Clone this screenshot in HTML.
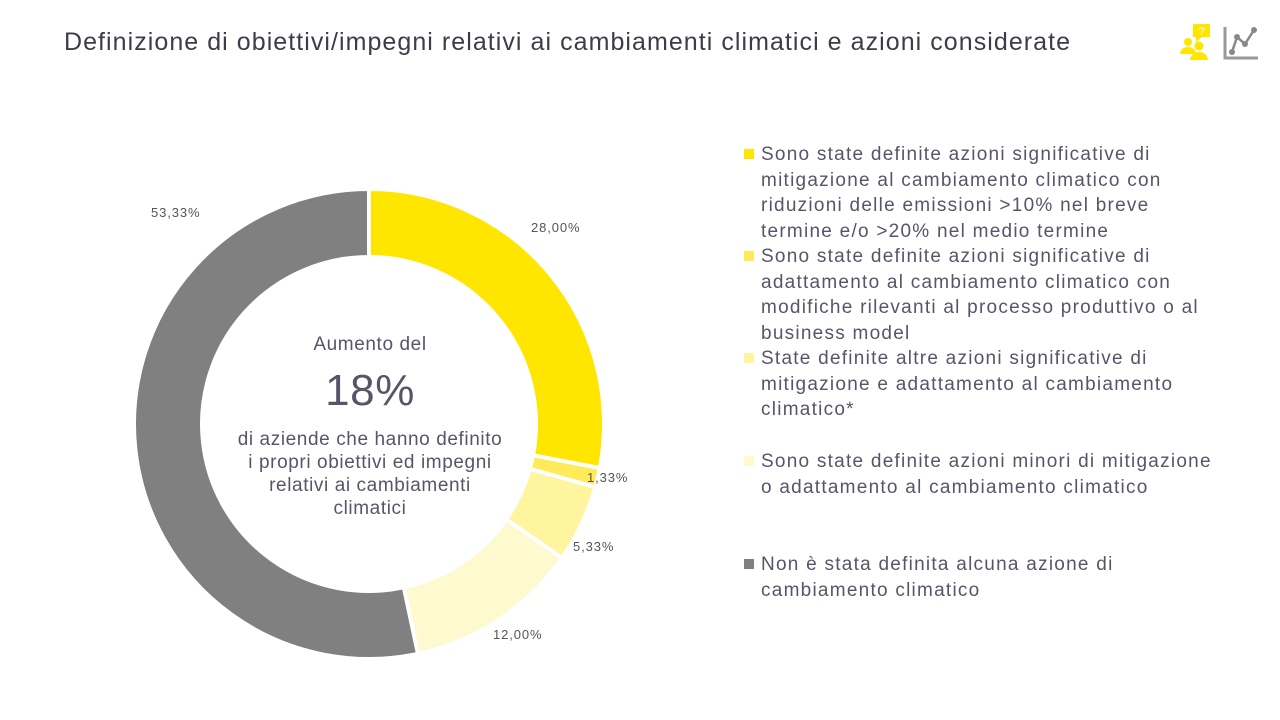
<!DOCTYPE html>
<html><head><meta charset="utf-8"><style>
body{margin:0;width:1280px;height:720px;background:#fff;font-family:"Liberation Sans",sans-serif;overflow:hidden;position:relative}
.t{position:absolute;left:64px;top:28px;font-size:25px;color:#3d3d4a;letter-spacing:1.05px;white-space:nowrap}
.lg{position:absolute;left:761px;font-size:19px;line-height:25.5px;color:#565669;width:500px;letter-spacing:1.25px;white-space:nowrap}
.sq{position:absolute;left:744px;width:10px;height:10px}
.c{position:absolute;text-align:center;color:#565669;letter-spacing:0.6px}
.lb{position:absolute;font-size:13px;color:#555;letter-spacing:0.9px}
</style></head><body>
<div class="t">Definizione di obiettivi/impegni relativi ai cambiamenti climatici e azioni considerate</div>
<svg style="position:absolute;left:1176px;top:22px" width="85" height="40" viewBox="0 0 85 40">
<rect x="17" y="2" width="17" height="13" fill="#FFE600"/><polygon points="20,15 26,15 20,20" fill="#FFE600"/>
<text x="25.5" y="13" font-size="11" fill="#fff" text-anchor="middle" font-family="Liberation Sans">?</text>
<circle cx="12" cy="20" r="4" fill="#FFE600"/><path d="M4 32a8 7 0 0 1 16 0z" fill="#FFE600"/>
<circle cx="23" cy="24" r="4.5" fill="#FFE600"/><path d="M14 38a9 8 0 0 1 18 0z" fill="#FFE600"/>
<path d="M49 5V36H82" stroke="#999" stroke-width="3" fill="none"/>
<polyline points="56,30 61,15 69,22 78,8" stroke="#888" stroke-width="2.5" fill="none"/>
<g fill="#888"><circle cx="56" cy="30" r="3"/><circle cx="61" cy="15" r="3"/><circle cx="69" cy="22" r="3"/><circle cx="78" cy="8" r="3"/></g>
</svg>
<svg id="d" style="position:absolute;left:0;top:0" width="1280" height="720"></svg>
<div class="c" style="left:270px;top:334px;width:200px;font-size:19px">Aumento del</div>
<div class="c" style="left:270px;top:366px;width:200px;font-size:44px">18%</div>
<div class="c" style="left:200px;top:428px;width:340px;font-size:19px;line-height:23px">di aziende che hanno definito<br>i propri obiettivi ed impegni<br>relativi ai cambiamenti<br>climatici</div>
<div class="lb" style="left:531px;top:220px">28,00%</div>
<div class="lb" style="left:587px;top:470px">1,33%</div>
<div class="lb" style="left:573px;top:539px">5,33%</div>
<div class="lb" style="left:493px;top:627px">12,00%</div>
<div class="lb" style="left:151px;top:205px">53,33%</div>
<div class="sq" style="top:149px;background:#FFE600"></div>
<div class="lg" style="top:142px">Sono state definite azioni significative di<br>mitigazione al cambiamento climatico con<br>riduzioni delle emissioni &gt;10% nel breve<br>termine e/o &gt;20% nel medio termine</div>
<div class="sq" style="top:251px;background:#FFEB59"></div>
<div class="lg" style="top:244px">Sono state definite azioni significative di<br>adattamento al cambiamento climatico con<br>modifiche rilevanti al processo produttivo o al<br>business model</div>
<div class="sq" style="top:353px;background:#FFF59E"></div>
<div class="lg" style="top:346px">State definite altre azioni significative di<br>mitigazione e adattamento al cambiamento<br>climatico*</div>
<div class="sq" style="top:456px;background:#FFF9CF"></div>
<div class="lg" style="top:449px">Sono state definite azioni minori di mitigazione<br>o adattamento al cambiamento climatico</div>
<div class="sq" style="top:559px;background:#808080"></div>
<div class="lg" style="top:552px">Non è stata definita alcuna azione di<br>cambiamento climatico</div>
<script>
var s=document.getElementById('d'),cx=369,cy=424,R=235,r=167;
var v=[28,1.33,5.33,12,53.34],col=['#FFE600','#FFEB59','#FFF59E','#FFF9CF','#808080'],a=0;
function p(ang,rad){return[cx+rad*Math.sin(ang),cy-rad*Math.cos(ang)]}
v.forEach(function(x,i){var a0=a*Math.PI/50,a1=(a+x)*Math.PI/50;a+=x;
var l=(a1-a0)>Math.PI?1:0,P=p(a0,R),Q=p(a1,R),U=p(a1,r),V=p(a0,r);
var e=document.createElementNS('http://www.w3.org/2000/svg','path');
e.setAttribute('d','M'+P+'A'+R+' '+R+' 0 '+l+' 1 '+Q+'L'+U+'A'+r+' '+r+' 0 '+l+' 0 '+V+'Z');
e.setAttribute('fill',col[i]);e.setAttribute('stroke','#fff');e.setAttribute('stroke-width','4');s.appendChild(e);});
</script>
</body></html>
